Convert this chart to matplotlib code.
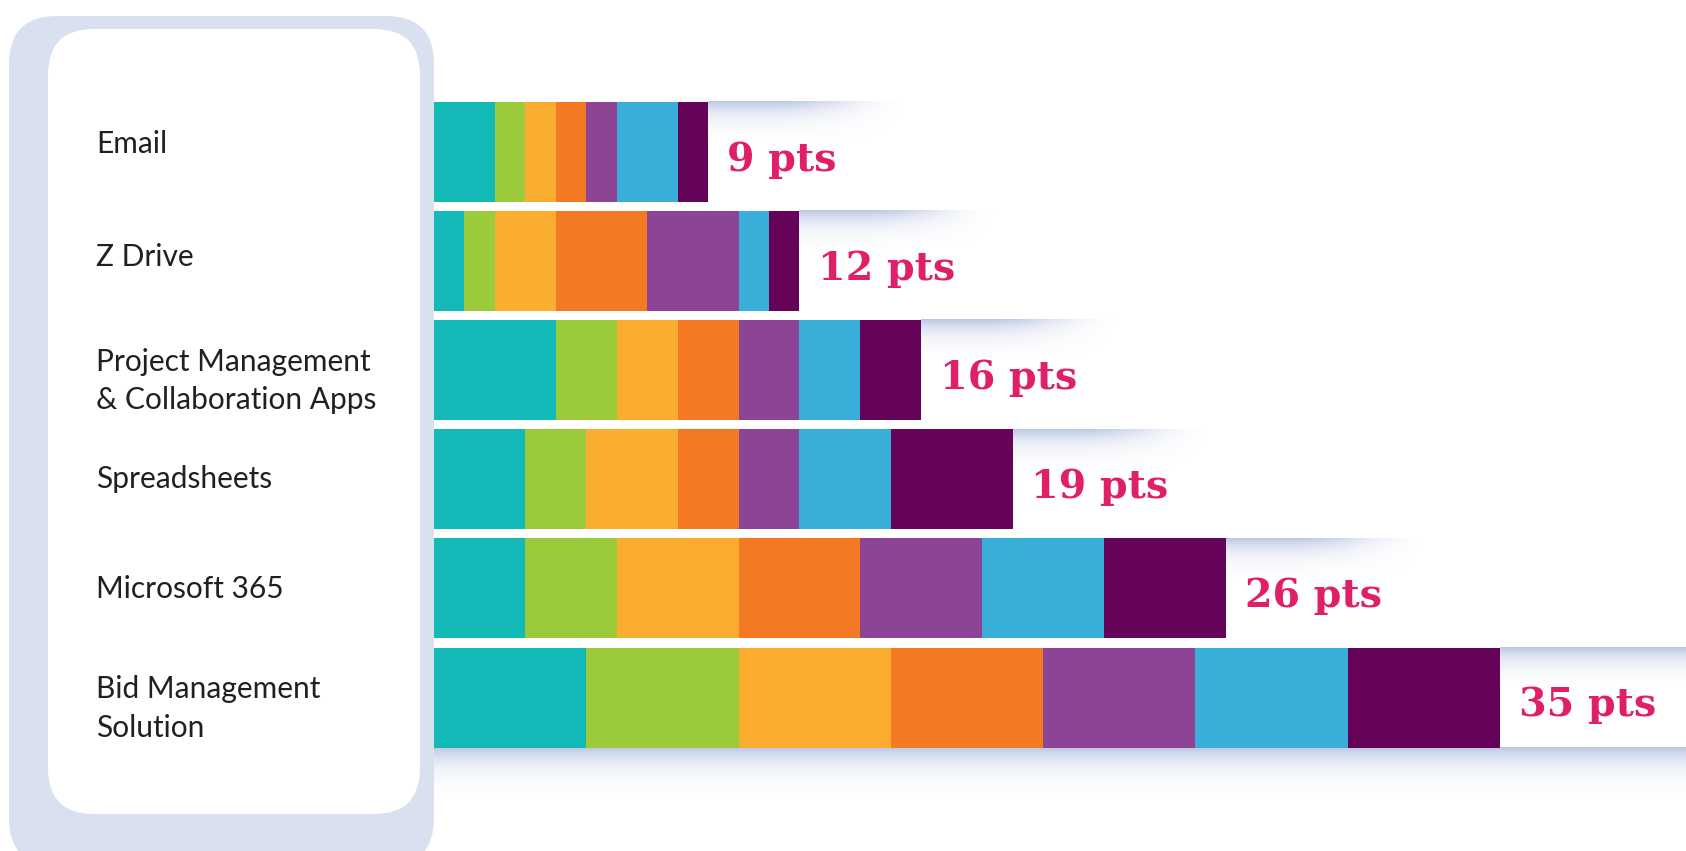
import matplotlib.pyplot as plt
import numpy as np
from matplotlib.patches import FancyBboxPatch
from matplotlib.transforms import blended_transform_factory, offset_copy

# Datuak
kategoriak = ["Email", "Z Drive", "Project Management\n& Collaboration Apps",
              "Spreadsheets", "Microsoft 365", "Bid Management\nSolution"]
s1 = [2, 1, 4, 3, 3, 5]
s2 = [1, 1, 2, 2, 3, 5]
s3 = [1, 2, 2, 3, 4, 5]
s4 = [1, 3, 2, 2, 4, 5]
s5 = [1, 3, 2, 2, 4, 5]
s6 = [2, 1, 2, 3, 4, 5]
s7 = [1, 1, 2, 4, 4, 5]
seriak = [s1, s2, s3, s4, s5, s6, s7]
koloreak = ["#12b9b7", "#9bcb3b", "#fbad2f", "#f37a23", "#8e4495", "#39aed8", "#650359"]

# etiketen mugimendu txikiak (pixeletan, beherantz positibo)
etiketa_dy = [-8, -4, 11, 0, 1, 11]

W, H = 1686, 851
fig = plt.figure(figsize=(W / 100, H / 100), dpi=100)

# Atzeko panela (pixel koordenatuak)
bg = fig.add_axes([0, 0, 1, 1])
bg.set_xlim(0, W)
bg.set_ylim(H, 0)
bg.axis('off')
bg.add_patch(FancyBboxPatch((9, 16), 425, 850, boxstyle="round,pad=0,rounding_size=48",
                            facecolor="#d9e0ef", edgecolor="none"))
bg.add_patch(FancyBboxPatch((48, 29), 372, 785, boxstyle="round,pad=0,rounding_size=46",
                            facecolor="white", edgecolor="none"))

# Barrak
ax = fig.add_axes([0, 0, 1, 1], facecolor="none")
px_pt = 30.45
pitch = 109.1
ax.set_xlim(-434 / px_pt, (W - 434) / px_pt)
ax.set_ylim((H - 152) / pitch, -152 / pitch)
ax.axis('off')

n = len(kategoriak)
y = np.arange(n)
guztira = np.sum(seriak, axis=0)
bh = 100 / pitch


def itzala(x0, x1, ytop, h, luzera_fade=True):
    nx, ny = 300, 80
    t = np.linspace(0, 1, nx)
    if luzera_fade:
        fx = 0.5 * (1 + np.cos(np.pi * np.clip((t - 0.3) / 0.7, 0, 1)))
    else:
        fx = np.ones_like(t)
    s = np.linspace(0, 1, ny)
    fy = (np.exp(-3.0 * s) - np.exp(-3.0)) / (1 - np.exp(-3.0))
    a = 0.9 * fy[:, None] * fx[None, :]
    img = np.zeros((ny, nx, 4))
    img[..., 0], img[..., 1], img[..., 2] = 0.70, 0.75, 0.88
    img[..., 3] = a
    ax.imshow(img, extent=(x0, x1, ytop + h, ytop), origin='upper',
              aspect='auto', interpolation='bilinear', zorder=1)


xmax = (W - 434) / px_pt
for i in range(n):
    tot = guztira[i]
    if i == n - 1:
        itzala(tot, xmax, y[i] - bh / 2, 0.38, luzera_fade=False)
        itzala(0, xmax, y[i] + bh / 2, 0.45, luzera_fade=False)
    else:
        itzala(tot, tot + 200 / px_pt, y[i] - bh / 2, 0.36)

ezkerra = np.zeros(n)
for balioak, kolorea in zip(seriak, koloreak):
    ax.barh(y, balioak, left=ezkerra, height=bh, color=kolorea, zorder=2)
    ezkerra = ezkerra + np.array(balioak)

for i in range(n):
    ax.text(guztira[i] + 0.62, y[i] + 0.07, f"{guztira[i]} pts", color="#e01f69",
            fontsize=28.5, fontweight='heavy', family="DejaVu Serif",
            ha='left', va='center', zorder=3)

# Etiketak
tr = blended_transform_factory(bg.transData, ax.transData)
for i, izena in enumerate(kategoriak):
    tr_i = offset_copy(tr, fig=fig, x=0, y=-etiketa_dy[i] * 0.72, units='points')
    ax.text(96, y[i], izena, transform=tr_i, fontsize=21.5, family="Lato",
            color="#231f20", ha='left', va='center', linespacing=1.45)

fig.savefig("out.png", dpi=100, facecolor="white")
